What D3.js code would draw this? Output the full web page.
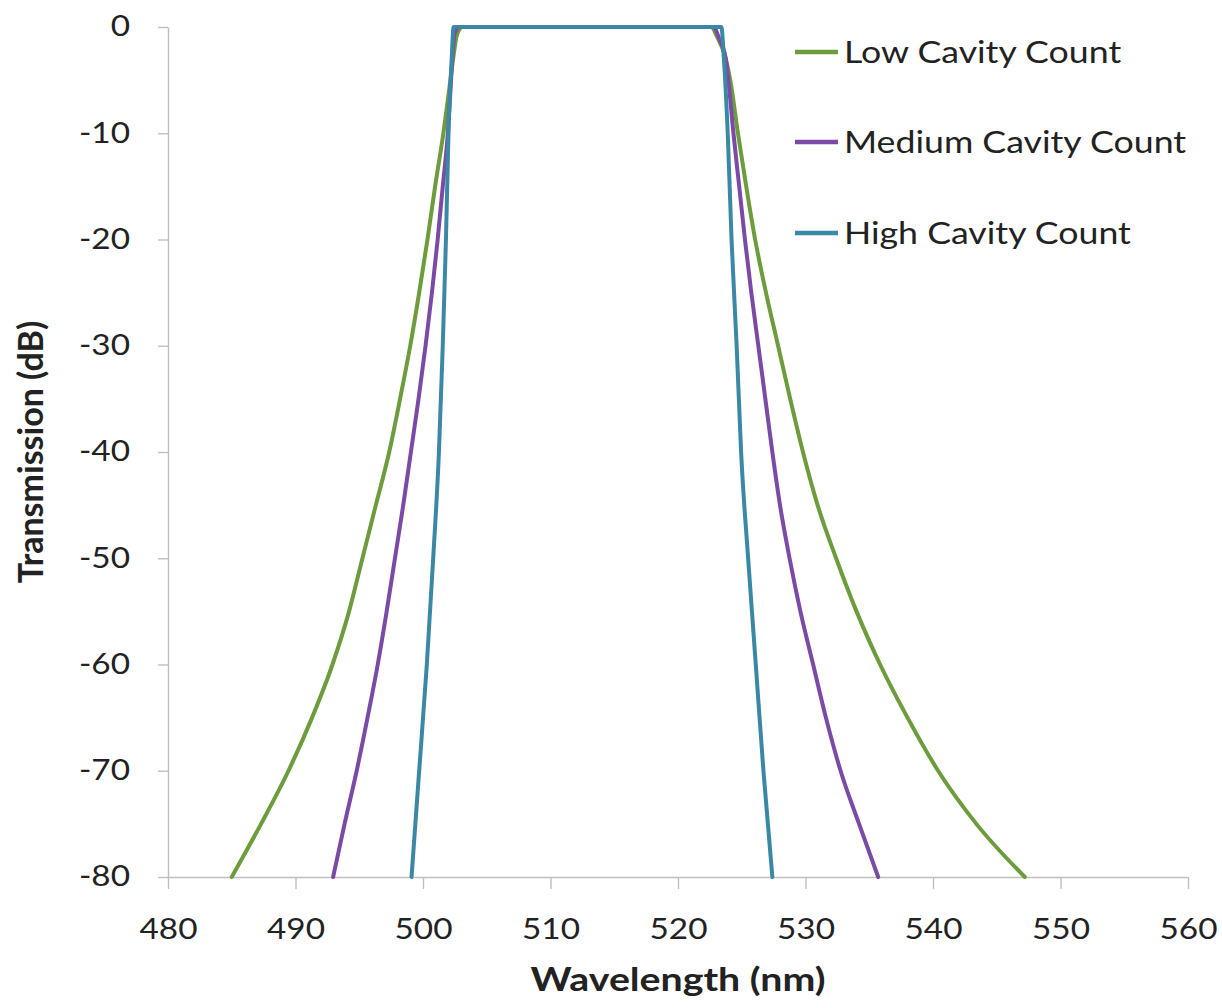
<!DOCTYPE html>
<html>
<head>
<meta charset="utf-8">
<script src="https://cdn.jsdelivr.net/npm/d3@7"></script>
<style>
  html, body { margin: 0; padding: 0; background: #ffffff; }
  svg { display: block; }
  .wide { transform-box: fill-box; transform: scaleX(1.19); }
</style>
</head>
<body>
<svg id="chart" width="1222" height="1008"></svg>
<script>
// Filter transmission spectra: [wavelength (nm), transmission (dB)]
const lowCavity = [
  [485.0, -80], [487.3, -75], [489.45, -70], [491.3, -65], [492.9, -60],
  [494.2, -55], [495.25, -50], [496.3, -45], [497.35, -40], [498.2, -35],
  [499.0, -30], [499.7, -25], [500.35, -20], [500.95, -15], [501.6, -10],
  [502.15, -5], [502.42, -2.5], [502.65, -0.8], [503.1, 0],
  [505, 0], [510, 0], [515, 0], [520, 0], [522.6, 0],
  [523.1, -1], [523.75, -3], [524.1, -5], [524.7, -10], [525.35, -15],
  [526.05, -20], [526.9, -25], [527.85, -30], [528.8, -35], [529.8, -40],
  [530.95, -45], [532.4, -50], [534.0, -55], [535.85, -60], [538.0, -65],
  [540.4, -70], [543.4, -75], [547.2, -80]
];

const mediumCavity = [
  [492.95, -80], [493.85, -75], [494.8, -70], [495.65, -65], [496.45, -60],
  [497.15, -55], [497.8, -50], [498.45, -45], [499.05, -40], [499.65, -35],
  [500.2, -30], [500.7, -25], [501.15, -20], [501.55, -15], [501.95, -10],
  [502.2, -5], [502.35, -2], [502.5, -0.5], [502.9, 0],
  [505, 0], [510, 0], [515, 0], [520, 0], [522.8, 0],
  [523.2, -1], [523.75, -3], [523.95, -5], [524.35, -10], [524.8, -15],
  [525.25, -20], [525.75, -25], [526.3, -30], [526.85, -35], [527.4, -40],
  [528.0, -45], [528.75, -50], [529.6, -55], [530.6, -60], [531.6, -65],
  [532.75, -70], [534.2, -75], [535.7, -80]
];

const highCavity = [
  [499.1, -80], [499.7, -70], [500.3, -60], [500.8, -50], [501.25, -40],
  [501.55, -30], [501.8, -20], [502.0, -10], [502.25, -3], [502.4, 0],
  [505, 0], [510, 0], [515, 0], [520, 0], [523.4, 0],
  [523.6, -3], [523.9, -10], [524.2, -20], [524.6, -30], [524.95, -40],
  [525.5, -50], [526.1, -60], [526.7, -70], [527.4, -80]
];

const seriesNames = ["Low Cavity Count", "Medium Cavity Count", "High Cavity Count"];
const seriesColors = ["#6c9c3b", "#7b4aa6", "#3b88a6"];
const xTicks = [480, 490, 500, 510, 520, 530, 540, 550, 560];
const yTicks = [0, -10, -20, -30, -40, -50, -60, -70, -80];

const margin = { left: 168, right: 34, top: 27, bottom: 131 };
const W = 1222, H = 1008;
const svg = d3.select("#chart");

const x = d3.scaleLinear().domain([480, 560]).range([margin.left, W - margin.right]);
const y = d3.scaleLinear().domain([-80, 0]).range([H - margin.bottom, margin.top]);

const axisColor = "#bfbfbf";
const textColor = "#222222";
const font = "Lato, 'Open Sans', sans-serif";

// Y axis
const gy = svg.append("g")
  .attr("transform", `translate(${margin.left},0)`)
  .call(d3.axisLeft(y).tickValues(yTicks).tickSize(10).tickSizeOuter(0)
    .tickPadding(28).tickFormat(d => String(d)));

// X axis
const gx = svg.append("g")
  .attr("transform", `translate(0,${H - margin.bottom})`)
  .call(d3.axisBottom(x).tickValues(xTicks).tickSize(12).tickSizeOuter(0)
    .tickFormat(d => String(d)));

[gx, gy].forEach(g => {
  g.select(".domain").attr("stroke", axisColor).attr("stroke-width", 1.4);
  g.selectAll(".tick line").attr("stroke", axisColor).attr("stroke-width", 1.4);
  g.selectAll(".tick text")
    .attr("fill", textColor)
    .attr("font-family", font)
    .attr("font-size", 28)
    .classed("wide", true);
});
gy.selectAll(".tick text").style("transform-origin", "right center");
gx.selectAll(".tick text").attr("y", 62).attr("dy", null).style("transform-origin", "center");

// Axis titles
svg.append("text")
  .attr("x", (x.range()[0] + x.range()[1]) / 2)
  .attr("y", 991)
  .attr("text-anchor", "middle")
  .attr("font-family", font)
  .attr("font-weight", 700)
  .attr("font-size", 33)
  .attr("fill", textColor)
  .attr("class", "wide")
  .style("transform-origin", "center")
  .text("Wavelength (nm)");

svg.append("text")
  .attr("transform", `translate(43,${(y.range()[0] + y.range()[1]) / 2}) rotate(-90)`)
  .attr("text-anchor", "middle")
  .attr("font-family", font)
  .attr("font-weight", 700)
  .attr("font-size", 34)
  .attr("fill", textColor)
  .text("Transmission (dB)");

// Spectra
const line = d3.line()
  .x(d => x(d[0]))
  .y(d => y(d[1]))
  .curve(d3.curveMonotoneX);

const allSeries = [lowCavity, mediumCavity, highCavity];
svg.append("g")
  .selectAll("path")
  .data(allSeries)
  .join("path")
  .attr("d", line)
  .attr("fill", "none")
  .attr("stroke", (d, i) => seriesColors[i])
  .attr("stroke-width", 4)
  .attr("stroke-linejoin", "round")
  .attr("stroke-linecap", "round");

// Legend
const legendY = [52, 142, 233];
const legend = svg.append("g")
  .selectAll("g")
  .data(seriesNames)
  .join("g")
  .attr("transform", (d, i) => `translate(795,${legendY[i]})`);

legend.append("line")
  .attr("x1", 0).attr("x2", 43)
  .attr("y1", 0).attr("y2", 0)
  .attr("stroke", (d, i) => seriesColors[i])
  .attr("stroke-width", 4.5);

legend.append("text")
  .attr("x", 49)
  .attr("y", 11)
  .attr("font-family", font)
  .attr("font-size", 30)
  .attr("fill", textColor)
  .attr("class", "wide")
  .style("transform-origin", "left center")
  .text(d => d);
</script>
</body>
</html>
